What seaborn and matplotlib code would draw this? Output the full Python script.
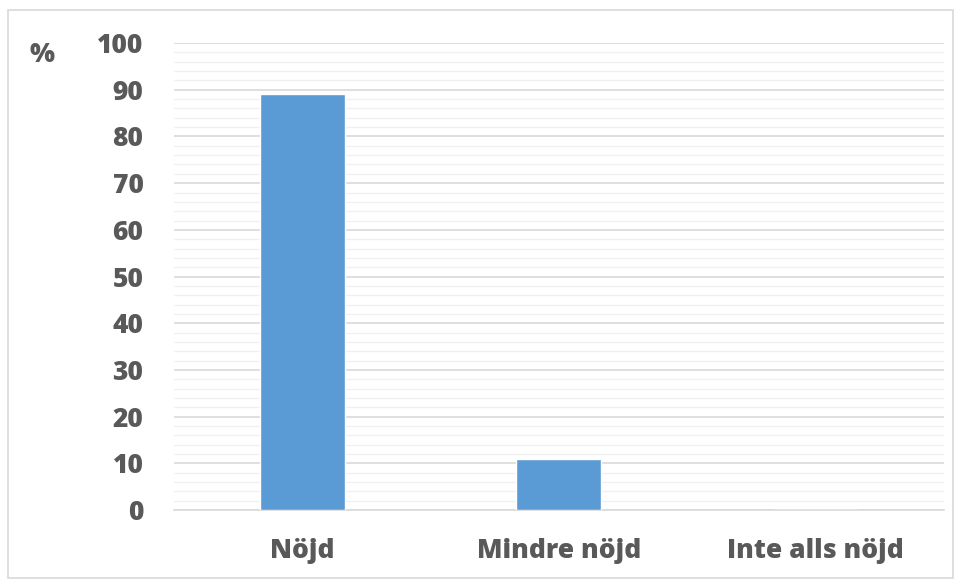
import matplotlib
matplotlib.use("Agg")
import matplotlib.pyplot as plt
import seaborn as sns
import pandas as pd
from matplotlib.ticker import MultipleLocator
from matplotlib.patches import Rectangle

categories = ["Nöjd", "Mindre nöjd", "Inte alls nöjd"]
values = [89.1, 10.9, 0.0]
yticks = [0, 10, 20, 30, 40, 50, 60, 70, 80, 90, 100]

sns.set_theme(style="white")
plt.rcParams['font.family'] = ['Open Sans', 'DejaVu Sans']

df = pd.DataFrame({"cat": categories, "val": values})

fig = plt.figure(figsize=(9.61, 5.8), dpi=100)
ax = fig.add_axes([0.181, 0.1207, 0.801, 0.805])

sns.barplot(data=df, x="cat", y="val", color="#5b9bd5", saturation=1, width=0.33, ax=ax, zorder=3)

ax.set_ylim(0, 100)
ax.set_xlim(-0.5, 2.5)
ax.set_yticks(yticks)
ax.yaxis.set_minor_locator(MultipleLocator(2))
ax.grid(axis="y", which="major", color="#d9d9d9", linewidth=1.2, zorder=0)
ax.grid(axis="y", which="minor", color="#f0f0f0", linewidth=1.0, zorder=0)
ax.set_axisbelow(True)
for s in ["top", "right", "left"]:
    ax.spines[s].set_visible(False)
ax.spines["bottom"].set_color("#d9d9d9")
ax.spines["bottom"].set_linewidth(1.2)
ax.tick_params(axis="both", which="both", length=0, colors="#595959")
ax.tick_params(axis="y", pad=22)
ax.tick_params(axis="x", pad=20)
for lbl in ax.get_yticklabels() + ax.get_xticklabels():
    lbl.set_fontsize(19)
    lbl.set_fontweight("heavy")
    lbl.set_color("#595959")
ax.set_xlabel("")
ax.set_ylabel("")

fig.text(42 / 961, 1 - 55 / 580, "%", fontsize=19, fontweight="heavy", color="#595959",
         ha="center", va="center")

fig.patches.append(Rectangle((8 / 961, 2 / 580), 945 / 961, 568 / 580, transform=fig.transFigure,
                             fill=False, edgecolor="#d9d9d9", linewidth=1.2))

fig.savefig("out.png", dpi=100)
